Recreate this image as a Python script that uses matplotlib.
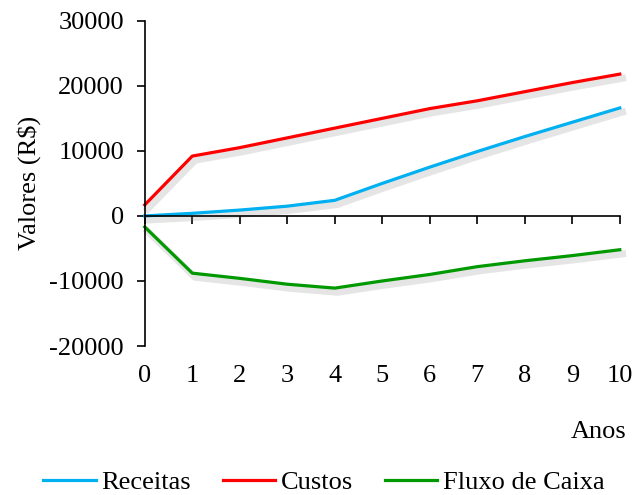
import matplotlib
matplotlib.use("Agg")
from matplotlib import pyplot as plt
from matplotlib.lines import Line2D
import matplotlib.patheffects as pe

plt.rcParams['font.family'] = ['Liberation Serif', 'DejaVu Serif']
plt.rcParams['axes.unicode_minus'] = False

anos = [0, 1, 2, 3, 4, 5, 6, 7, 8, 9, 10]
receitas = [0, 400, 900, 1500, 2400, 5000, 7500, 9900, 12200, 14400, 16600]
custos = [1700, 9200, 10500, 12000, 13500, 15000, 16500, 17700, 19100, 20500, 21800]
fluxo = [r - c for r, c in zip(receitas, custos)]
y_ticks = [-20000, -10000, 0, 10000, 20000, 30000]
series = [('Receitas', receitas, '#00B0F0'),
          ('Custos', custos, '#FF0000'),
          ('Fluxo de Caixa', fluxo, '#009900')]

fs = 19
fig = plt.figure(figsize=(6.35, 4.95), dpi=100)
ax = fig.add_axes([0.228, 0.301, 0.748, 0.657])

handles = []
for name, vals, col in series:
    shadow = [pe.SimpleLineShadow(offset=(2, -3), shadow_color='gray', alpha=0.2, linewidth=5),
              pe.Normal()]
    ax.plot(anos, vals, color=col, lw=2.3, path_effects=shadow, clip_on=False)
    handles.append(Line2D([], [], color=col, lw=2.3, label=name))

ax.set_xlim(0, 10)
ax.set_ylim(-20000, 30000)
ax.set_yticks(y_ticks)
ax.spines['top'].set_visible(False)
ax.spines['right'].set_visible(False)
ax.spines['bottom'].set_position(('data', 0))
ax.spines['left'].set_linewidth(1.2)
ax.spines['bottom'].set_linewidth(1.2)
ax.set_xticks(anos)
ax.tick_params(axis='x', direction='out', length=6, width=1.2, labelbottom=False)
ax.tick_params(axis='y', direction='out', length=6, width=1.2, labelsize=fs, pad=9)

sec = ax.secondary_xaxis('bottom')
sec.set_xticks(anos)
sec.spines['bottom'].set_visible(False)
sec.tick_params(length=0, labelsize=fs, pad=14)

ax.set_ylabel('Valores (R\\$)', fontsize=fs, labelpad=6)
fig.text(0.986, 0.127, 'Anos', fontsize=fs, ha='right', va='center')
fig.legend(handles=handles, loc='center', bbox_to_anchor=(0.51, 0.026), ncol=3, frameon=False,
           fontsize=fs, handlelength=2.0, handletextpad=0.2, columnspacing=1.2,
           borderpad=0, borderaxespad=0)

fig.savefig('out.png', dpi=100)
